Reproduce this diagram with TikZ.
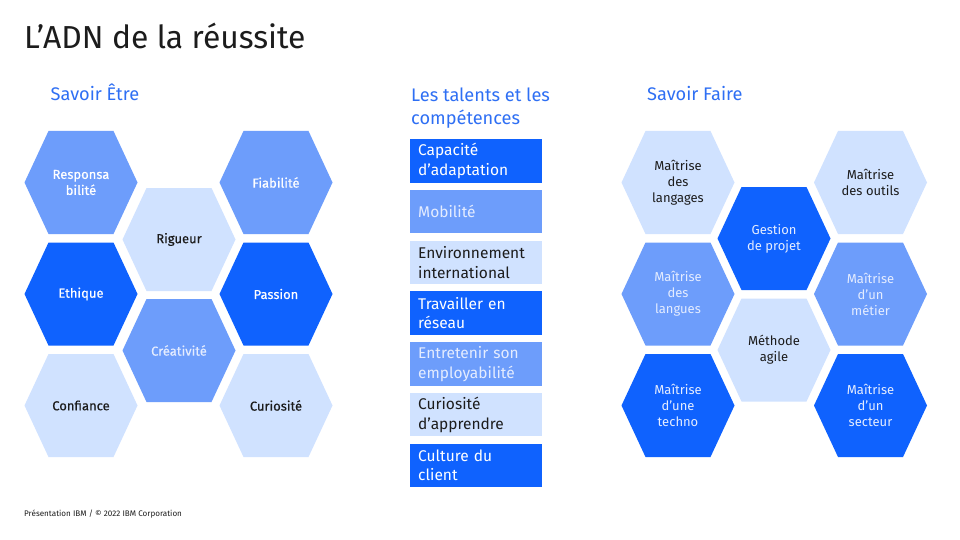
\documentclass[tikz,border=0pt]{standalone}
\usepackage{fontspec}
\setmainfont{Fira Sans}
\newfontfamily\hexmed[FakeBold=0.4]{Fira Sans}
\definecolor{bdark}{HTML}{0F62FE}
\definecolor{bmid}{HTML}{6D9DFB}
\definecolor{blight}{HTML}{D0E2FF}
\definecolor{tmid}{HTML}{E4ECFF}
\definecolor{tdark}{HTML}{1C1C1C}
\definecolor{thead}{HTML}{2E6FF4}
\tikzset{
  hexlabel/.style={align=center, inner sep=0pt, font=\fontsize{13}{16}\selectfont},
  hexbold/.style={font=\hexmed\fontsize{13}{16}\selectfont},
  boxcell/.style={anchor=north west, minimum height=43.5pt, text width=116pt, align=left,
    inner xsep=8pt, inner ysep=0pt, font=\fontsize{15.5}{19.5}\selectfont},
  heading/.style={anchor=base west, inner sep=0pt, text=thead, font=\fontsize{18.2}{22.5}\selectfont},
}
\newcommand\hexcell[7]{%
  \begin{scope}[shift={(#2,#3)}]
    \fill[#4] (-56.5,0) -- (-32.5,-51.5) -- (32.5,-51.5) -- (56.5,0) -- (32.5,51.5) -- (-32.5,51.5) -- cycle;
    \node[hexlabel, #7, text=#5] (#1) at (0,0) {#6};
  \end{scope}}
\begin{document}
\begin{tikzpicture}[x=1pt,y=-1pt]
\useasboundingbox[fill=white] (0,0) rectangle (960,540);
% title
\node[anchor=base west, inner sep=0pt, text=tdark, font=\fontsize{31.8}{36}\selectfont] (title) at (24,48.3) {L’ADN de la réussite};
% headings
\node[heading] (hEtre) at (50.5,100.7) {Savoir Être};
\node[heading] (hTalA) at (411,101.7) {Les talents et les};
\node[heading] (hTalB) at (411,124.2) {compétences};
\node[heading] (hFaire) at (647,100.7) {Savoir Faire};
% left hexagons
\hexcell{resp}{81}{182.5}{bmid}{white}{Responsa\\bilité}{hexbold}
\hexcell{rig}{179}{239.5}{blight}{tdark}{Rigueur}{hexbold}
\hexcell{fiab}{276}{182.5}{bmid}{white}{Fiabilité}{hexbold}
\hexcell{eth}{81}{294}{bdark}{white}{Ethique}{hexbold}
\hexcell{pass}{276}{294}{bdark}{white}{Passion}{hexbold}
\hexcell{crea}{179}{350.5}{bmid}{tmid}{Créativité}{hexbold}
\hexcell{conf}{81}{405.5}{blight}{tdark}{Confiance}{hexbold}
\hexcell{curi}{276}{405.5}{blight}{tdark}{Curiosité}{hexbold}
% middle boxes
\node[boxcell, fill=bdark, text=white] (b1) at (410,139) {Capacité\\d’adaptation};
\node[boxcell, fill=bmid, text=tmid] (b2) at (410,189.75) {Mobilité};
\node[boxcell, fill=blight, text=tdark] (b3) at (410,240.5) {Environnement\\international};
\node[boxcell, fill=bdark, text=white] (b4) at (410,291.25) {Travailler en\\réseau};
\node[boxcell, fill=bmid, text=tmid] (b5) at (410,342) {Entretenir son\\employabilité};
\node[boxcell, fill=blight, text=tdark] (b6) at (410,392.75) {Curiosité\\d’apprendre};
\node[boxcell, fill=bdark, text=white] (b7) at (410,443.5) {Culture du\\client};
% right hexagons
\hexcell{lang}{678}{182.5}{blight}{tdark}{Maîtrise\\des\\langages}{}
\hexcell{outi}{870.5}{182.5}{blight}{tdark}{Maîtrise\\des outils}{}
\hexcell{gest}{774}{238.5}{bdark}{tmid}{Gestion\\de projet}{}
\hexcell{lgue}{678}{294}{bmid}{tmid}{Maîtrise\\des\\langues}{}
\hexcell{meti}{870.5}{294}{bmid}{tmid}{Maîtrise\\d’un\\métier}{}
\hexcell{meth}{774}{350}{blight}{tdark}{Méthode\\agile}{}
\hexcell{tech}{678}{405.5}{bdark}{tmid}{Maîtrise\\d’une\\techno}{}
\hexcell{sect}{870.5}{405.5}{bdark}{tmid}{Maîtrise\\d’un\\secteur}{}
% footer
\node[anchor=base west, inner sep=0pt, text=tdark, font=\fontsize{8.1}{10}\selectfont] (foot) at (24,516) {Présentation IBM / © 2022 IBM Corporation};
\end{tikzpicture}
\end{document}
